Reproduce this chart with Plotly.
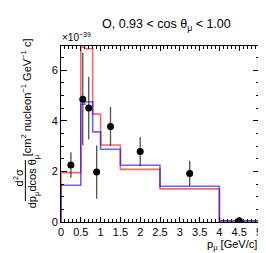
import plotly.graph_objects as go

# ---- data ----
bin_edges = [0.0, 0.5, 0.6, 0.8, 1.0, 1.5, 2.5, 4.0, 5.0]
model_blue = [1.45, 4.65, 4.75, 3.56, 2.87, 2.24, 1.41, 0.05]
model_red = [1.95, 6.90, 6.84, 4.26, 3.04, 2.08, 1.31, 0.04]
data_x = [0.25, 0.55, 0.7, 0.9, 1.25, 2.0, 3.25, 4.5]
data_y = [2.25, 4.85, 4.50, 1.97, 3.77, 2.78, 1.92, 0.05]
data_err = [0.50, 1.82, 1.24, 1.05, 0.77, 0.58, 0.50, 0.05]
x_ticks = [0, 0.5, 1, 1.5, 2, 2.5, 3, 3.5, 4, 4.5, 5]
x_tick_labels = ["0", "0.5", "1", "1.5", "2", "2.5", "3", "3.5", "4", "4.5", "5"]
y_ticks = [0, 2, 4, 6]

FONT = "Liberation Sans, Arial, sans-serif"

W, H = 266, 253
L, R, T, B = 53, 13, 38, 39
PW, PH = W - L - R, H - T - B


def px(x):
    return (x - L) / PW


def py(y):
    return (H - B - y) / PH


def step(edges, vals):
    xs = [edges[0]] + list(edges) + [edges[-1]]
    ys = [0] + list(vals) + [vals[-1], 0]
    return xs, ys


fig = go.Figure()
for vals, col in [(model_red, "rgba(255,0,0,0.6)"), (model_blue, "rgba(0,0,255,0.6)")]:
    xs, ys = step(bin_edges, vals)
    fig.add_trace(go.Scatter(x=xs, y=ys, mode="lines", line=dict(color=col, width=1.6, shape="hv"),
                             showlegend=False, hoverinfo="skip"))

fig.add_trace(go.Scatter(x=data_x, y=data_y, mode="markers",
                         marker=dict(color="black", size=7),
                         error_y=dict(type="data", array=data_err, color="rgba(50,50,50,0.85)",
                                      thickness=1.3, width=0),
                         showlegend=False))

axis_common = dict(showgrid=False, zeroline=False, showline=True, linecolor="black", linewidth=1,
                   mirror="allticks", ticks="inside", tickcolor="black",
                   tickfont=dict(family=FONT, size=11, color="black"))

fig.update_xaxes(range=[0, 5], tickvals=x_ticks, ticktext=x_tick_labels, ticklen=5,
                 minor=dict(dtick=0.1, ticklen=3, ticks="inside", tickcolor="black"),
                 **axis_common)
fig.update_yaxes(range=[0, 6.95], tickvals=y_ticks, ticklen=6,
                 minor=dict(dtick=0.5, ticklen=3, ticks="inside", tickcolor="black"),
                 **axis_common)

ann_font = dict(family=FONT, size=11, color="black")
annotations = [
    dict(text="O, 0.93 < cos θ<sub>μ</sub> < 1.00", x=px(160), y=py(17), xref="paper", yref="paper",
         showarrow=False, xanchor="center", yanchor="middle", font=dict(family=FONT, size=12.5, color="black")),
    dict(text="×10<sup>−39</sup>", x=px(52), y=py(37), xref="paper", yref="paper",
         showarrow=False, xanchor="left", yanchor="bottom", font=dict(family=FONT, size=10, color="black")),
    dict(text="p<sub>μ</sub> [GeV/c]", x=px(253), y=py(237), xref="paper", yref="paper",
         showarrow=False, xanchor="right", yanchor="middle", font=ann_font),
    dict(text="d<sup>2</sup>σ", x=px(10), y=py(170), xref="paper", yref="paper", textangle=-90,
         showarrow=False, xanchor="center", yanchor="middle", font=ann_font),
    dict(text="dp<sub>μ</sub>dcos θ<sub>μ</sub>", x=px(25), y=py(173), xref="paper", yref="paper", textangle=-90,
         showarrow=False, xanchor="center", yanchor="middle", font=ann_font),
    dict(text="[cm<sup>2</sup> nucleon<sup>−1</sup> GeV<sup>−1</sup> c]", x=px(18), y=py(89), xref="paper",
         yref="paper", textangle=-90, showarrow=False, xanchor="center", yanchor="middle", font=ann_font),
]

fig.update_layout(
    width=W, height=H, margin=dict(l=L, r=R, t=T, b=B, pad=0),
    paper_bgcolor="white", plot_bgcolor="white",
    annotations=annotations,
    shapes=[dict(type="line", xref="paper", yref="paper", x0=px(17), x1=px(17), y0=py(152), y1=py(193),
                 line=dict(color="black", width=1))],
)

fig.write_html("out.html")
